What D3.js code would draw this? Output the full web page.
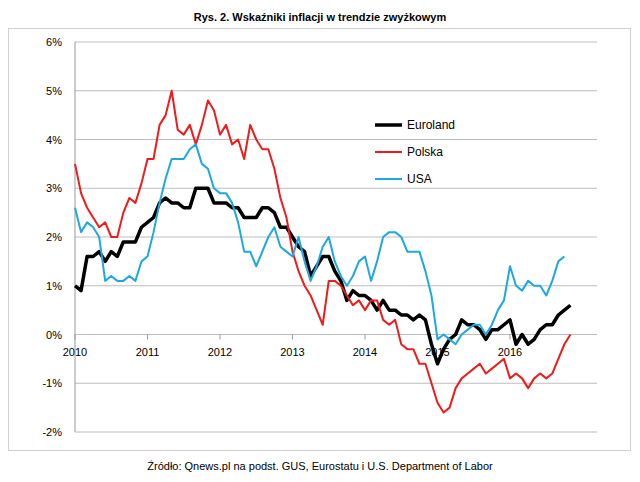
<!DOCTYPE html>
<html><head><meta charset="utf-8">
<script src="https://cdn.jsdelivr.net/npm/d3@7"></script>
<style>body{margin:0;background:#fff;font-family:"Liberation Sans","DejaVu Sans",sans-serif}</style>
</head><body><div id="chart"></div>
<script>
const years = [2010, 2011, 2012, 2013, 2014, 2015, 2016];
const yTicks = [-2, -1, 0, 1, 2, 3, 4, 5, 6];
// monthly, from Jan 2010
const euroland = [1.0,0.9,1.6,1.6,1.7,1.5,1.7,1.6,1.9,1.9,1.9,2.2,
  2.3,2.4,2.7,2.8,2.7,2.7,2.6,2.6,3.0,3.0,3.0,2.7,
  2.7,2.7,2.6,2.6,2.4,2.4,2.4,2.6,2.6,2.5,2.2,2.2,
  2.0,1.8,1.7,1.2,1.4,1.6,1.6,1.3,1.1,0.7,0.9,0.8,
  0.8,0.7,0.5,0.7,0.5,0.5,0.4,0.4,0.3,0.4,0.3,-0.2,
  -0.6,-0.3,-0.1,0.0,0.3,0.2,0.2,0.1,-0.1,0.1,0.1,0.2,
  0.3,-0.2,0.0,-0.2,-0.1,0.1,0.2,0.2,0.4,0.5,0.6];
const polska = [3.5,2.9,2.6,2.4,2.2,2.3,2.0,2.0,2.5,2.8,2.7,3.1,
  3.6,3.6,4.3,4.5,5.0,4.2,4.1,4.3,3.9,4.3,4.8,4.6,
  4.1,4.3,3.9,4.0,3.6,4.3,4.0,3.8,3.8,3.4,2.8,2.4,
  1.7,1.3,1.0,0.8,0.5,0.2,1.1,1.1,1.0,0.8,0.6,0.7,
  0.5,0.7,0.7,0.3,0.2,0.3,-0.2,-0.3,-0.3,-0.6,-0.6,-1.0,
  -1.4,-1.6,-1.5,-1.1,-0.9,-0.8,-0.7,-0.6,-0.8,-0.7,-0.6,-0.5,
  -0.9,-0.8,-0.9,-1.1,-0.9,-0.8,-0.9,-0.8,-0.5,-0.2,0.0];
const usa = [2.6,2.1,2.3,2.2,2.0,1.1,1.2,1.1,1.1,1.2,1.1,1.5,
  1.6,2.1,2.7,3.2,3.6,3.6,3.6,3.8,3.9,3.5,3.4,3.0,
  2.9,2.9,2.7,2.3,1.7,1.7,1.4,1.7,2.0,2.2,1.8,1.7,
  1.6,2.0,1.5,1.1,1.4,1.8,2.0,1.5,1.2,1.0,1.2,1.5,
  1.6,1.1,1.5,2.0,2.1,2.1,2.0,1.7,1.7,1.7,1.3,0.8,
  -0.1,0.0,-0.1,-0.2,0.0,0.1,0.2,0.2,0.0,0.2,0.5,0.7,
  1.4,1.0,0.9,1.1,1.0,1.0,0.8,1.1,1.5,1.6];
const seriesNames = ["Euroland", "Polska", "USA"];
const seriesColors = ["#000000", "#ee1c1c", "#1ea8e0"];
const seriesWidths = [3.5, 2, 2];

const W = 640, H = 482;
const svg = d3.select("#chart").append("svg").attr("width", W).attr("height", H);

svg.append("text").attr("x", 320).attr("y", 21).attr("text-anchor", "middle")
    .style("font-size", "11px").style("font-weight", "bold").text("Rys. 2. Wskaźniki inflacji w trendzie zwyżkowym");
svg.append("rect").attr("x", 8.5).attr("y", 28.5).attr("width", 622).attr("height", 422)
    .attr("fill", "none").attr("stroke", "#d0d0d0");

const x = d3.scaleLinear().domain([0, 72]).range([75, 510]);
const y = d3.scaleLinear().domain([-2, 6]).range([432, 42]);

// gridlines
svg.selectAll(".grid").data(yTicks).enter().append("line")
    .attr("x1", 75).attr("x2", 597).attr("y1", d => y(d)).attr("y2", d => y(d))
    .attr("stroke", "#bdbdbd").attr("stroke-width", 1);
svg.append("line").attr("x1", 75).attr("x2", 75).attr("y1", y(6)).attr("y2", y(-2)).attr("stroke", "#999");

svg.selectAll(".yl").data(yTicks).enter().append("text")
    .attr("x", 62).attr("y", d => y(d) + 4).attr("text-anchor", "end")
    .style("font-size", "11px").text(d => d + "%");

// x ticks at zero line
svg.selectAll(".xt").data(d3.range(0, 7)).enter().append("line")
    .attr("x1", d => x(d * 12)).attr("x2", d => x(d * 12)).attr("y1", y(0)).attr("y2", y(0) + 5)
    .attr("stroke", "#999");
svg.selectAll(".xl").data(years).enter().append("text")
    .attr("x", (d, i) => x(i * 12)).attr("y", y(0) + 21).attr("text-anchor", "middle")
    .style("font-size", "11px").text(d => d);

const line = d3.line().x((d, i) => x(i)).y(d => y(d));
[euroland, polska, usa].forEach((s, k) => {
    svg.append("path").datum(s).attr("d", line).attr("fill", "none")
        .attr("stroke", seriesColors[k]).attr("stroke-width", seriesWidths[k]).attr("stroke-linejoin", "round");
});

// legend
seriesNames.forEach((n, k) => {
    const ly = 125 + k * 27;
    svg.append("line").attr("x1", 375).attr("x2", 402).attr("y1", ly).attr("y2", ly)
        .attr("stroke", seriesColors[k]).attr("stroke-width", seriesWidths[k]);
    svg.append("text").attr("x", 407).attr("y", ly + 4).style("font-size", "12px").text(n);
});

svg.append("text").attr("x", 320).attr("y", 470).attr("text-anchor", "middle")
    .style("font-size", "11px").text("Źródło: Qnews.pl na podst. GUS, Eurostatu i U.S. Department of Labor");
</script></body></html>
